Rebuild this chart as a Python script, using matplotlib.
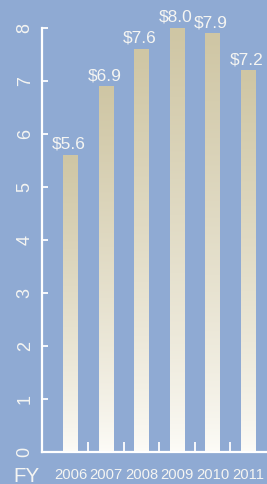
import numpy as np
import matplotlib
matplotlib.use("Agg")
import matplotlib.pyplot as plt
from matplotlib.colors import LinearSegmentedColormap

years = ["2006", "2007", "2008", "2009", "2010", "2011"]
values = [5.6, 6.9, 7.6, 8.0, 7.9, 7.2]
value_labels = ["$5.6", "$6.9", "$7.6", "$8.0", "$7.9", "$7.2"]
y_ticks = [0, 1, 2, 3, 4, 5, 6, 7, 8]

BG = "#8FAAD3"
TXT = "#F5F5F2"
BAR_TOP = "#CFC6A4"
BAR_BOTTOM = "#FDFCF8"

plt.rcParams["font.family"] = ["Liberation Sans", "DejaVu Sans"]

fig = plt.figure(figsize=(2.67, 4.84), dpi=100)
fig.patch.set_facecolor(BG)
ax = fig.add_axes([42 / 267, 32 / 484, 1 - 42 / 267, (452 - 28) / 484])
ax.set_facecolor(BG)

x = np.arange(len(years))
width = 0.42

# bars with a vertical gradient (tan at top -> white at bottom)
cmap = LinearSegmentedColormap.from_list("bar", [BAR_BOTTOM, BAR_TOP])
grad = np.linspace(0, 1, 256) ** 0.8
grad = grad.reshape(-1, 1)
for xi, v in zip(x, values):
    ax.imshow(grad, cmap=cmap, origin="lower", aspect="auto",
              extent=[xi - width / 2, xi + width / 2, 0, v],
              interpolation="bilinear", zorder=2)

for xi, v, lab in zip(x, values, value_labels):
    ax.annotate(lab, (xi - 0.04, v), xytext=(0, 4.5), textcoords="offset points",
                ha="center", va="baseline", color=TXT, fontsize=12.5,
                annotation_clip=False, clip_on=False)

ax.set_xlim(-0.803, 5.535)
ax.set_ylim(0, 8)

for side in ["top", "right"]:
    ax.spines[side].set_visible(False)
for side in ["left", "bottom"]:
    ax.spines[side].set_color("white")
    ax.spines[side].set_linewidth(1.6)

# y axis
ax.set_yticks(y_ticks)
ax.set_yticklabels([str(t) for t in y_ticks], rotation=90, va="center",
                   family=["Liberation Sans Narrow", "Liberation Sans"],
                   fontsize=13)
ax.tick_params(axis="y", direction="in", length=4, width=1.3,
               colors="white", labelcolor=TXT, pad=6)

# x axis: labels under bars, tick marks between bars
ax.set_xticks(x)
ax.set_xticklabels(years, fontsize=10.6)
ax.set_xticks(x[:-1] + 0.5, minor=True)
ax.tick_params(axis="x", which="major", length=0, labelcolor=TXT, pad=11.5)
ax.tick_params(axis="x", which="minor", direction="in", length=7, width=1.3,
               colors="white")

fig.text(13 / 267, 2.5 / 484, "FY", color=TXT, fontsize=14.8,
         ha="left", va="baseline")

fig.savefig("out.png", dpi=100, facecolor=BG)
